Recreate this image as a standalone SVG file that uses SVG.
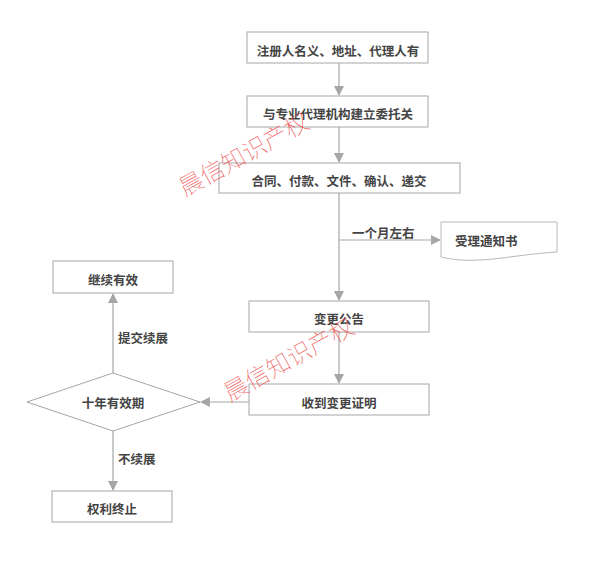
<svg xmlns="http://www.w3.org/2000/svg" width="592" height="565" viewBox="0 0 592 565">
<defs>
<marker id="ah" viewBox="0 0 10 10" refX="9" refY="5" markerWidth="10" markerHeight="10" markerUnits="userSpaceOnUse" orient="auto">
<path d="M0,0 L10,5 L0,10 z" fill="#a6a6a6"/>
</marker>
<style>
.box{fill:#fff;stroke:#a6a6a6;stroke-width:1}
.t{font-family:"Noto Sans CJK SC","Liberation Sans",sans-serif;font-size:12.5px;font-weight:bold;fill:#444;text-anchor:middle;dominant-baseline:central}
.l{font-family:"Noto Sans CJK SC","Liberation Sans",sans-serif;font-size:12.5px;font-weight:bold;fill:#444;dominant-baseline:central}
.c{fill:none;stroke:#a6a6a6;stroke-width:1.2;marker-end:url(#ah)}
.wm{font-family:"Noto Sans CJK SC",serif;font-size:24px;font-weight:100;fill:#ef4a4a;fill-opacity:0.9}
</style>
</defs>
<rect width="592" height="565" fill="#fff"/>
<g id="connectors">
<line class="c" x1="339" y1="63" x2="339" y2="95"/>
<line class="c" x1="339" y1="127" x2="339" y2="162"/>
<line class="c" x1="339" y1="193" x2="339" y2="300"/>
<line class="c" x1="339" y1="240" x2="440" y2="240"/>
<line class="c" x1="339" y1="332" x2="339" y2="383"/>
<line class="c" x1="249" y1="402" x2="201" y2="402"/>
<line class="c" x1="113" y1="373" x2="113" y2="294"/>
<line class="c" x1="113" y1="431" x2="113" y2="490"/>
<text class="l" x="352" y="232">一个月左右</text>
<text class="l" x="118" y="337">提交续展</text>
<text class="l" x="118" y="458">不续展</text>
</g>
<g id="n1"><rect class="box" x="247" y="32" width="181" height="31"/><text class="t" x="338" y="50">注册人名义、地址、代理人有</text></g>
<g id="n2"><rect class="box" x="247" y="96" width="181" height="31"/><text class="t" x="338" y="113">与专业代理机构建立委托关</text></g>
<g id="n3"><rect class="box" x="219" y="163" width="241" height="30"/><text class="t" x="339" y="180">合同、付款、文件、确认、递交</text></g>
<g id="n4"><path d="M441,222 L557,222 L557,252 C520,254 490,262 460,260 C450,259 445,258 441,257 Z" fill="#fff" stroke="#b8b8b8" stroke-width="1"/><text class="l" x="455" y="240">受理通知书</text></g>
<g id="n5"><rect class="box" x="249" y="301" width="180" height="31"/><text class="t" x="339" y="318">变更公告</text></g>
<g id="n6"><rect class="box" x="249" y="384" width="180" height="31"/><text class="t" x="339" y="402">收到变更证明</text></g>
<g id="n7"><path d="M113,373 L200,402 L113,431 L27,402 Z" fill="#fff" stroke="#a6a6a6" stroke-width="1"/><text class="t" x="113" y="402">十年有效期</text></g>
<g id="n8"><rect class="box" x="53" y="261" width="120" height="32"/><text class="t" x="113" y="279">继续有效</text></g>
<g id="n9"><rect class="box" x="52" y="491" width="120" height="31"/><text class="t" x="112" y="508">权利终止</text></g>
<g id="watermarks">
<text class="wm" transform="translate(185,197) rotate(-29)">晨信知识产权</text>
<text class="wm" transform="translate(230,402) rotate(-29)">晨信知识产权</text>
</g>
</svg>
